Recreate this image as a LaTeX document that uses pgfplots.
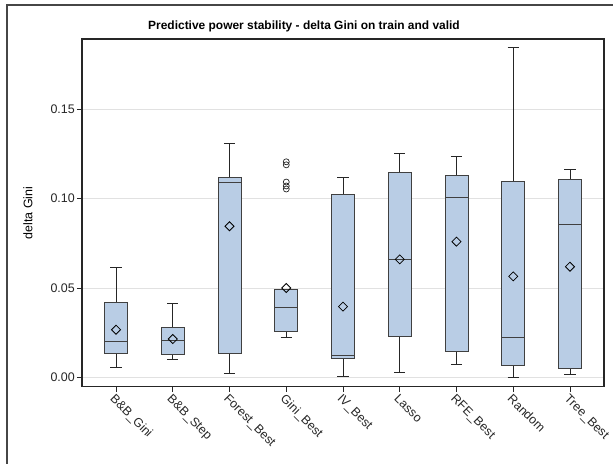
\documentclass[border=0pt]{standalone}
\usepackage{fontspec}
\setmainfont{Liberation Sans}
\usepackage{pgfplots}
\pgfplotsset{compat=1.18}
\definecolor{boxblue}{RGB}{185,205,229}
\definecolor{gridgray}{RGB}{225,225,225}
\definecolor{framegray}{RGB}{70,70,70}
% pos, lower whisker, q1, median, q3, upper whisker
\newcommand{\bx}[6]{%
 \pgfmathsetmacro\bL{#1-0.2025}\pgfmathsetmacro\bR{#1+0.2025}%
 \pgfmathsetmacro\cL{#1-0.1}\pgfmathsetmacro\cR{#1+0.1}%
 \edef\temp{%
 \noexpand\addplot[black!85, line width=0.9bp] coordinates {(#1,#5) (#1,#6)};
 \noexpand\addplot[black!85, line width=0.9bp] coordinates {(\cL,#6) (\cR,#6)};
 \noexpand\addplot[black!85, line width=0.9bp] coordinates {(#1,#2) (#1,#3)};
 \noexpand\addplot[black!85, line width=0.9bp] coordinates {(\cL,#2) (\cR,#2)};
 \noexpand\addplot[fill=boxblue, draw=black!75, line width=0.9bp] coordinates {(\bL,#3) (\bR,#3) (\bR,#5) (\bL,#5)} -- cycle;
 \noexpand\addplot[black!75, line width=0.9bp] coordinates {(\bL,#4) (\bR,#4)};
 }\temp}
\begin{document}
\begin{tikzpicture}
\begin{axis}[
  at={(0,0)}, anchor=south west,
  scale only axis, width=522bp, height=347.7bp,
  xmin=0.4, xmax=9.6, ymin=-0.00503, ymax=0.1892,
  xtick={1,2,3,4,5,6,7,8,9},
  xticklabels={B\&B\_Gini,B\&B\_Step,Forest\_Best,Gini\_Best,IV\_Best,Lasso,RFE\_Best,Random,Tree\_Best},
  ytick={0,0.05,0.10,0.15},
  yticklabel style={/pgf/number format/fixed, /pgf/number format/fixed zerofill, /pgf/number format/precision=2},
  /pgf/number format/assume math mode=true,
  tick label style={font=\fontsize{12.5}{14}\selectfont, black!85},
  xticklabel style={rotate=-45, anchor=north west, inner sep=1bp},
  yticklabel style={inner sep=2bp},
  tick align=outside, xtick pos=bottom, ytick pos=left,
  major tick length=5bp,
  tick style={black!85, line width=0.8bp},
  axis line style={black!85, line width=1.2bp},
  ymajorgrids, grid style={gridgray, line width=0.8bp},
  ylabel={delta Gini},
  ylabel style={at={(axis description cs:-0.1034,0.5)}, anchor=center, font=\fontsize{12.5}{14}\selectfont},
]
\bx{1}{0.0060}{0.0138}{0.0203}{0.0419}{0.0615}
\bx{2}{0.0104}{0.0131}{0.0209}{0.0282}{0.0417}
\bx{3}{0.0021}{0.0138}{0.1093}{0.1117}{0.1311}
\bx{4}{0.0223}{0.0261}{0.0390}{0.0494}{0.0494}
\bx{5}{0.0009}{0.0108}{0.0123}{0.1022}{0.1121}
\bx{6}{0.0032}{0.0233}{0.0661}{0.1147}{0.1254}
\bx{7}{0.0075}{0.0149}{0.1006}{0.1131}{0.1235}
\bx{8}{0.0004}{0.0071}{0.0226}{0.1099}{0.1847}
\bx{9}{0.0019}{0.0050}{0.0857}{0.1106}{0.1162}
\addplot[only marks, mark=o, mark size=3bp, mark options={draw=black!85, line width=0.7bp}] coordinates {
 (4,0.1206) (4,0.1189) (4,0.1093) (4,0.1071) (4,0.1054)};
\addplot[only marks, mark=square, mark size=3.2bp, mark options={rotate=45, draw=black, fill=none, line width=0.8bp}] coordinates {
 (1,0.0268) (2,0.0216) (3,0.0846) (4,0.0501) (5,0.0397) (6,0.0661) (7,0.0760) (8,0.0566) (9,0.0620)};
\end{axis}
\node[font=\bfseries\fontsize{12}{14}\selectfont] at (222bp,360.7bp) {Predictive power stability - delta Gini on train and valid};
\draw[framegray, line width=1.6bp] (-75bp,-120bp) rectangle (560bp,381.7bp);
\pgfresetboundingbox
\path[use as bounding box] (-82bp,-77.3bp) rectangle (531bp,386.7bp);
\end{tikzpicture}
\end{document}
